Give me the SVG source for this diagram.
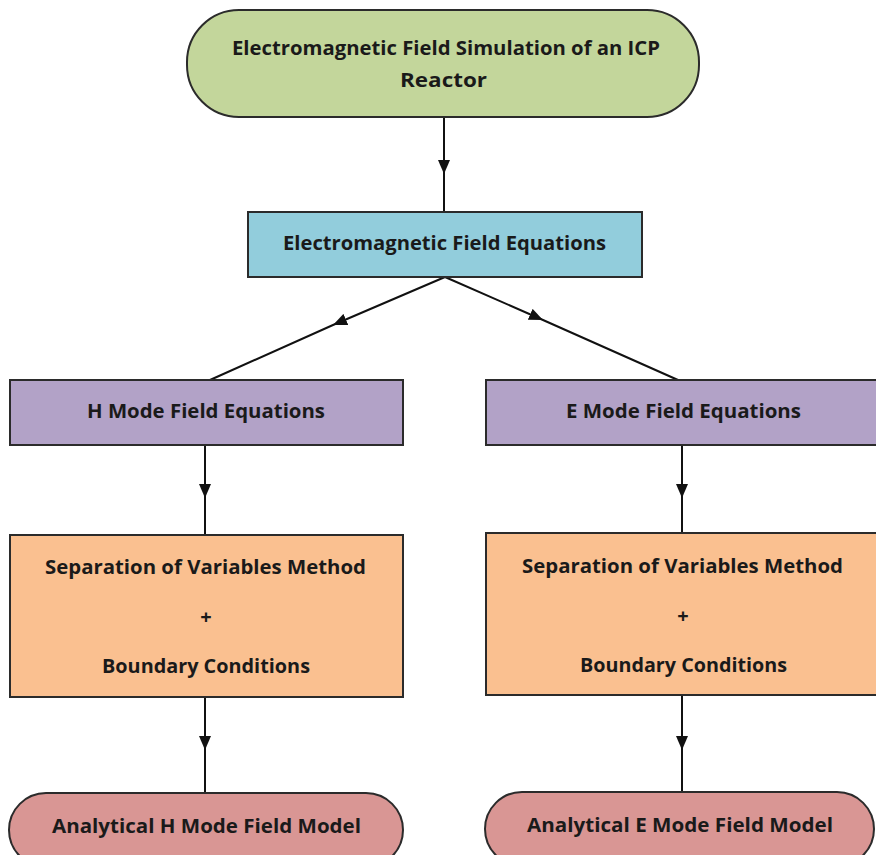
<svg xmlns="http://www.w3.org/2000/svg" width="876" height="855" viewBox="0 0 876 855">
  <defs>
    <marker id="arrow" viewBox="0 0 14 12" markerWidth="14" markerHeight="12" refX="14" refY="6" orient="auto" markerUnits="userSpaceOnUse">
      <path d="M0,0 L14,6 L0,12 z" fill="#111"/>
    </marker>
    <style>
      .node { stroke: #2b2b2b; stroke-width: 2; }
      .green { fill: #c3d69b; }
      .blue { fill: #92cddc; }
      .purple { fill: #b2a2c7; }
      .orange { fill: #fac090; }
      .pink { fill: #d99694; }
      .label { font-family: "Open Sans", "Liberation Sans", sans-serif; font-weight: 700; font-size: 20px; fill: #1a1a1a; text-anchor: middle; }
      .conn { stroke: #111; stroke-width: 2; fill: none; marker-mid: url(#arrow); }
    </style>
  </defs>
  <rect width="876" height="855" fill="#ffffff"/>

  <!-- connectors -->
  <g id="connectors">
    <path class="conn" d="M444,117 L444,174 L444,212"/>
    <path class="conn" d="M445,277 L333,325 L210,380"/>
    <path class="conn" d="M445,277 L543,320 L678,380"/>
    <path class="conn" d="M205,445 L205,498 L205,535"/>
    <path class="conn" d="M682,445 L682,498 L682,533"/>
    <path class="conn" d="M205,697 L205,750 L205,793"/>
    <path class="conn" d="M682,695 L682,750 L682,792"/>
  </g>

  <!-- start -->
  <g id="node-simulation">
    <rect class="node green" x="187" y="10" width="512" height="107" rx="52" ry="52"/>
    <text class="label" x="446" y="55" textLength="428" lengthAdjust="spacingAndGlyphs">Electromagnetic Field Simulation of an ICP</text>
    <text class="label" x="443.5" y="87" textLength="87" lengthAdjust="spacingAndGlyphs">Reactor</text>
  </g>

  <g id="node-equations">
    <rect class="node blue" x="248" y="212" width="394" height="65"/>
    <text class="label" x="444.5" y="250" textLength="323" lengthAdjust="spacingAndGlyphs">Electromagnetic Field Equations</text>
  </g>

  <g id="node-h-mode">
    <rect class="node purple" x="10" y="380" width="393" height="65"/>
    <text class="label" x="206" y="418" textLength="238" lengthAdjust="spacingAndGlyphs">H Mode Field Equations</text>
  </g>

  <g id="node-e-mode">
    <rect class="node purple" x="486" y="380" width="404" height="65"/>
    <text class="label" x="683.5" y="418" textLength="235" lengthAdjust="spacingAndGlyphs">E Mode Field Equations</text>
  </g>

  <g id="node-h-method">
    <rect class="node orange" x="10" y="535" width="393" height="162"/>
    <text class="label" x="205.5" y="574" textLength="321" lengthAdjust="spacingAndGlyphs">Separation of Variables Method</text>
    <text class="label" x="206" y="624">+</text>
    <text class="label" x="206" y="673" textLength="208" lengthAdjust="spacingAndGlyphs">Boundary Conditions</text>
  </g>

  <g id="node-e-method">
    <rect class="node orange" x="486" y="533" width="404" height="162"/>
    <text class="label" x="682.5" y="573" textLength="321" lengthAdjust="spacingAndGlyphs">Separation of Variables Method</text>
    <text class="label" x="683" y="623">+</text>
    <text class="label" x="683.5" y="672" textLength="207" lengthAdjust="spacingAndGlyphs">Boundary Conditions</text>
  </g>

  <g id="node-h-model">
    <rect class="node pink" x="9" y="793" width="394" height="74" rx="37" ry="37"/>
    <text class="label" x="206.5" y="833" textLength="309" lengthAdjust="spacingAndGlyphs">Analytical H Mode Field Model</text>
  </g>

  <g id="node-e-model">
    <rect class="node pink" x="485" y="792" width="389" height="74" rx="37" ry="37"/>
    <text class="label" x="680" y="832" textLength="306" lengthAdjust="spacingAndGlyphs">Analytical E Mode Field Model</text>
  </g>
</svg>
